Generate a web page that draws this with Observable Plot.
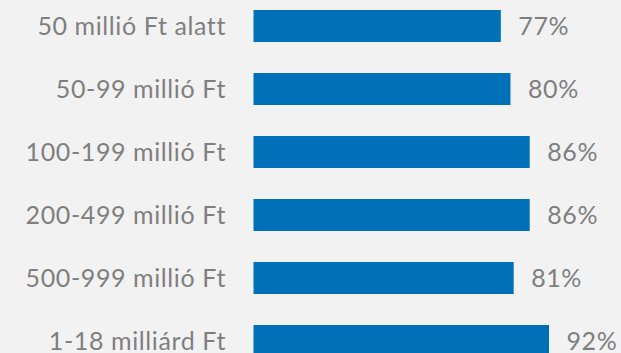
<!DOCTYPE html>
<html>
<head>
<meta charset="utf-8">
<script src="https://cdn.jsdelivr.net/npm/d3@7"></script>
<script src="https://cdn.jsdelivr.net/npm/@observablehq/plot@0.6"></script>
<style>
  html, body { margin: 0; padding: 0; background: #f2f2f2; }
  #chart svg { display: block; }
  #chart svg text { letter-spacing: 0.6px; }
</style>
</head>
<body>
<div id="chart"></div>
<script>
// Size bands of the companies and their share (%)
const categories = [
  "50 millió Ft alatt",
  "50-99 millió Ft",
  "100-199 millió Ft",
  "200-499 millió Ft",
  "500-999 millió Ft",
  "1-18 milliárd Ft"
];
const values = [77, 80, 86, 86, 81, 92];

const rows = categories.map((category, i) => ({category, value: values[i]}));

const font = "Lato, 'Open Sans', sans-serif";
const grey = "#7f7f7f";

const chart = Plot.plot({
  width: 621,
  height: 353,
  marginLeft: 253.5,
  marginRight: 46.3,
  marginTop: 0,
  marginBottom: 0,
  style: {background: "#f2f2f2", fontFamily: font, overflow: "hidden"},
  x: {domain: [0, 100], axis: null},
  y: {domain: categories, range: [-21.5, 388], padding: 0.5, label: null},
  marks: [
    Plot.barX(rows, {x: "value", y: "category", fill: "#0070b8"}),
    Plot.text(rows, {
      x: "value",
      y: "category",
      text: d => `${d.value}%`,
      textAnchor: "start",
      dx: 17,
      fontSize: 25,
      fill: grey
    }),
    Plot.axisY({tickSize: 0, tickPadding: 28, fontSize: 25, fill: grey, label: null})
  ]
});

document.getElementById("chart").appendChild(chart);
</script>
</body>
</html>
